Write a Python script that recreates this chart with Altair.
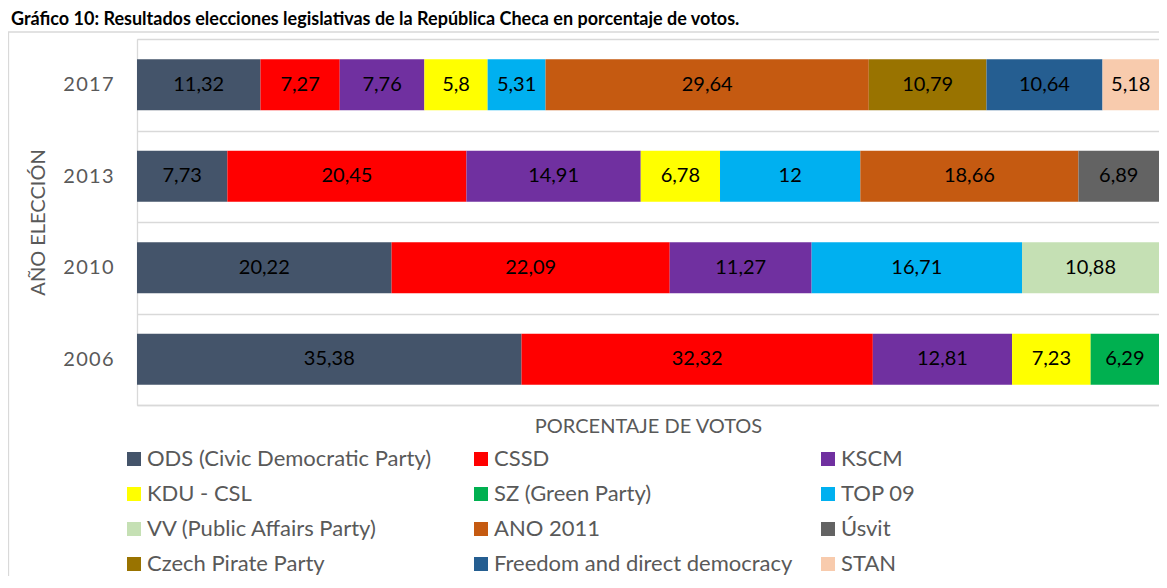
import altair as alt
import pandas as pd

title_text = "Gráfico 10: Resultados elecciones legislativas de la República Checa en porcentaje de votos."

years = ["2017", "2013", "2010", "2006"]
parties = [
    "ODS (Civic Democratic Party)", "CSSD", "KSCM",
    "KDU - CSL", "SZ (Green Party)", "TOP 09",
    "VV (Public Affairs Party)", "ANO 2011", "Úsvit",
    "Czech Pirate Party", "Freedom and direct democracy", "STAN",
]
colors = [
    "#44546A", "#FF0000", "#7030A0",
    "#FFFF00", "#00B050", "#00B0F0",
    "#C5E0B4", "#C55A11", "#636363",
    "#997300", "#255E91", "#F8CBAD",
]
# values per party, aligned with `parties` (None = not present)
votes_2017 = [11.32, 7.27, 7.76, 5.8, None, 5.31, None, 29.64, None, 10.79, 10.64, 5.18]
votes_2013 = [7.73, 20.45, 14.91, 6.78, None, 12, None, 18.66, 6.89, None, None, None]
votes_2010 = [20.22, 22.09, 11.27, None, None, 16.71, 10.88, None, None, None, None, None]
votes_2006 = [35.38, 32.32, 12.81, 7.23, 6.29, None, None, None, None, None, None, None]

rows = []
for yr, vals in zip(years, [votes_2017, votes_2013, votes_2010, votes_2006]):
    for i, (p, v) in enumerate(zip(parties, vals)):
        if v is None:
            continue
        rows.append({"year": yr, "party": p, "order": i, "value": v,
                     "label": f"{v:g}".replace(".", ",")})
df = pd.DataFrame(rows)

W, H = 1022, 366
FONT = "Lato"
GRAY = "#595959"
LINE = "#d9d9d9"

base = alt.Chart(df).transform_stack(
    stack="value", groupby=["year"], as_=["v0", "v1"], offset="normalize",
    sort=[alt.SortField("order", order="ascending")],
).transform_calculate(mid="(datum.v0 + datum.v1) / 2")

yenc = alt.Y(
    "year:N", sort=years,
    scale=alt.Scale(paddingInner=0, paddingOuter=0),
    axis=alt.Axis(
        title="AÑO ELECCIÓN", titleFont=FONT, titleFontSize=20, titleFontWeight="normal",
        titleColor=GRAY, titlePadding=14,
        labelFont=FONT, labelFontSize=20, labelColor=GRAY, labelPadding=24,
        labelExpr="join(split(datum.label, ''), '\u200a')",
        ticks=False, grid=True, gridColor=LINE, gridWidth=1.3, tickBand="extent",
        domain=True, domainColor=LINE, domainWidth=1.3,
    ),
)

xenc = alt.X(
    "v0:Q", scale=alt.Scale(domain=[0, 1], nice=False, zero=True),
    axis=alt.Axis(
        title="PORCENTAJE DE VOTOS", titleFont=FONT, titleFontSize=20,
        titleFontWeight="normal", titleColor=GRAY, titlePadding=11,
        labels=False, ticks=False, grid=False, domain=True, domainColor=LINE, domainWidth=1.3,
    ),
)

bars = base.mark_bar(size=51).encode(
    x=xenc,
    x2="v1:Q",
    y=yenc,
    color=alt.Color(
        "party:N",
        scale=alt.Scale(domain=parties, range=colors),
        sort=parties,
        legend=alt.Legend(
            title=None, orient="none", legendX=-14, legendY=409, direction="horizontal",
            columns=3, gridAlign="all", columnPadding=24, rowPadding=13,
            symbolType="square", symbolSize=196, symbolStrokeWidth=0,
            labelFont=FONT, labelFontSize=22, labelColor=GRAY, labelOffset=2,
            labelLimit=500, padding=0,
        ),
    ),
)

labels = base.mark_text(font=FONT, fontSize=20, color="black").encode(
    x="mid:Q",
    y=alt.Y("year:N", sort=years),
    text="label:N",
)

deco = pd.DataFrame({"t": [title_text]})
title = alt.Chart(deco).mark_text(
    font=FONT, fontSize=18, fontWeight="bold", align="left", baseline="top", color="black"
).encode(x=alt.value(-126), y=alt.value(-28), text="t:N")

frame = alt.Chart(deco).mark_rect(
    fill="transparent", stroke=LINE, strokeWidth=1.3
).encode(x=alt.value(-128.5), x2=alt.value(W + 20), y=alt.value(-7), y2=alt.value(H + 200))

chart = alt.layer(frame, bars, labels, title).properties(
    width=W, height=H,
    autosize=alt.AutoSizeParams(type="none"),
    padding={"left": 129, "top": 31, "right": 0, "bottom": 171},
).configure_view(stroke=None).configure(font=FONT)

chart.save("out.html", embed_options={"renderer": "svg", "actions": False})
